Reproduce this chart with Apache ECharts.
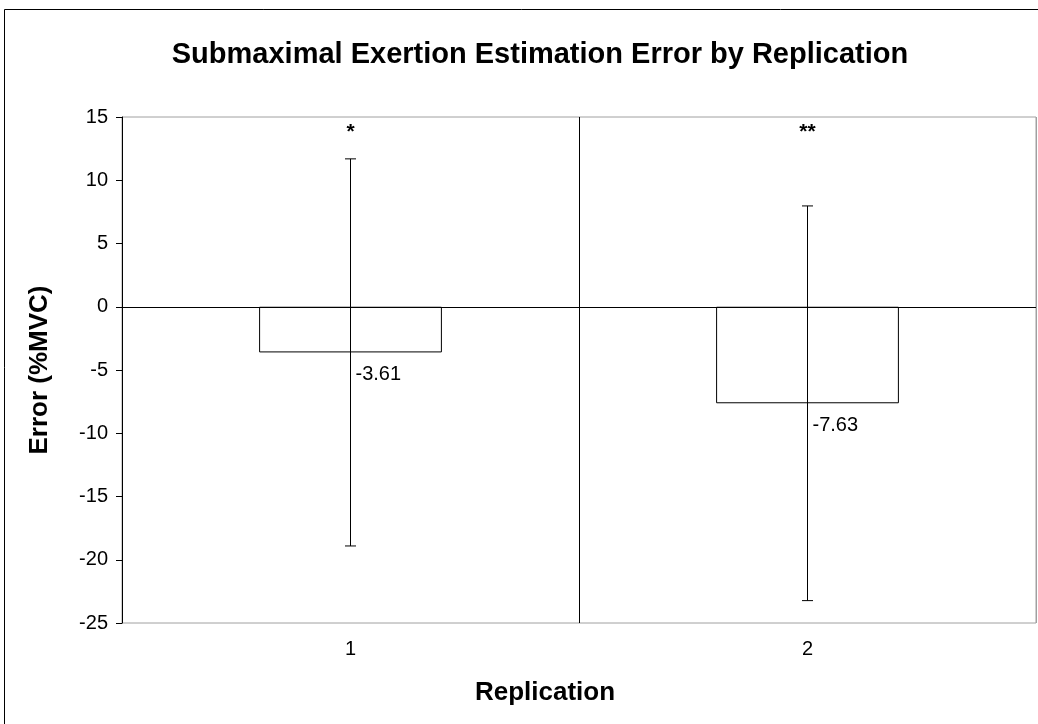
<!DOCTYPE html>
<html>
<head>
<meta charset="utf-8">
<script src="https://cdn.jsdelivr.net/npm/echarts@6/dist/echarts.min.js"></script>
<style>html,body{margin:0;padding:0;background:#fff;}#c{width:1038px;height:724px;}</style>
</head>
<body>
<div id="c"></div>
<script>
const categories = ['1', '2'];
const means = [-3.61, -7.63];
const errors = [15.3, 15.6];
const significance = ['*', '**'];
const yTicks = { min: -25, max: 15, interval: 5 };

const chart = echarts.init(document.getElementById('c'), null, { renderer: 'canvas' });
const FONT = 'Liberation Sans, Arial, sans-serif';
const starLevel = 14;

const errData = categories.map((c, i) => [i, means[i], errors[i], significance[i]]);

chart.setOption({
  animation: false,
  backgroundColor: '#fff',
  graphic: [{
    type: 'rect', shape: { x: 4.5, y: 9.5, width: 1040, height: 730 },
    style: { fill: 'none', stroke: '#000', lineWidth: 1 }, z: -1
  }],
  title: {
    text: 'Submaximal Exertion Estimation Error by Replication',
    left: 535, top: 35, textAlign: 'center',
    textStyle: { fontFamily: FONT, fontSize: 29, fontWeight: 'bold', color: '#000' }
  },
  grid: { left: 122, right: 2, top: 117, bottom: 101, show: true, borderColor: '#a0a0a0', borderWidth: 1 },
  xAxis: {
    type: 'category', data: categories,
    name: 'Replication', nameLocation: 'middle', nameGap: 57,
    nameTextStyle: { fontFamily: FONT, fontSize: 26, fontWeight: 'bold', color: '#000', padding: [0, 68, 0, 0] },
    axisLine: { show: true, lineStyle: { color: '#a0a0a0' } },
    axisTick: { show: false },
    axisLabel: { fontFamily: FONT, fontSize: 20, color: '#000', margin: 16 },
    splitLine: { show: true, lineStyle: { color: ['#000', '#000', '#a0a0a0'], width: 1 } }
  },
  yAxis: {
    type: 'value', min: yTicks.min, max: yTicks.max, interval: yTicks.interval,
    name: 'Error (%MVC)', nameLocation: 'middle', nameGap: 69, nameRotate: 90,
    nameTextStyle: { fontFamily: FONT, fontSize: 26, fontWeight: 'bold', color: '#000', padding: [0, 0, 0, 0] },
    axisLine: { show: true, lineStyle: { color: '#000' } },
    axisTick: { show: true, length: 6, lineStyle: { color: '#000' } },
    axisLabel: { fontFamily: FONT, fontSize: 20, color: '#000', margin: 14 },
    splitLine: { show: false }
  },
  series: [{
    type: 'bar', data: means, barWidth: '40%',
    itemStyle: { color: '#fff', borderColor: '#000', borderWidth: 1 },
    markLine: {
      silent: true, symbol: 'none', label: { show: false },
      lineStyle: { color: '#000', type: 'solid', width: 1 },
      data: [{ yAxis: 0 }]
    },
    z: 2
  }, {
    type: 'custom', data: errData, z: 5,
    renderItem: function (params, api) {
      const x = api.value(0), m = api.value(1), e = api.value(2);
      const top = api.coord([x, m + e]);
      const bot = api.coord([x, m - e]);
      const mid = api.coord([x, m]);
      const star = api.coord([x, starLevel]);
      const cap = 5.5;
      const ls = { stroke: '#000', lineWidth: 1 };
      return {
        type: 'group',
        children: [
          { type: 'line', shape: { x1: top[0], y1: top[1], x2: bot[0], y2: bot[1] }, style: ls },
          { type: 'line', shape: { x1: top[0] - cap, y1: top[1], x2: top[0] + cap, y2: top[1] }, style: ls },
          { type: 'line', shape: { x1: bot[0] - cap, y1: bot[1], x2: bot[0] + cap, y2: bot[1] }, style: ls },
          { type: 'text', x: mid[0] + 5, y: mid[1] + 22,
            style: { text: m.toFixed(2), fill: '#000', font: '20px ' + FONT, textAlign: 'left', textVerticalAlign: 'middle' } },
          { type: 'text', x: star[0], y: star[1] + 3,
            style: { text: significance[params.dataIndex], fill: '#000', font: 'bold 21px ' + FONT, textAlign: 'center', textVerticalAlign: 'middle' } }
        ]
      };
    }
  }]
});
</script>
</body>
</html>
